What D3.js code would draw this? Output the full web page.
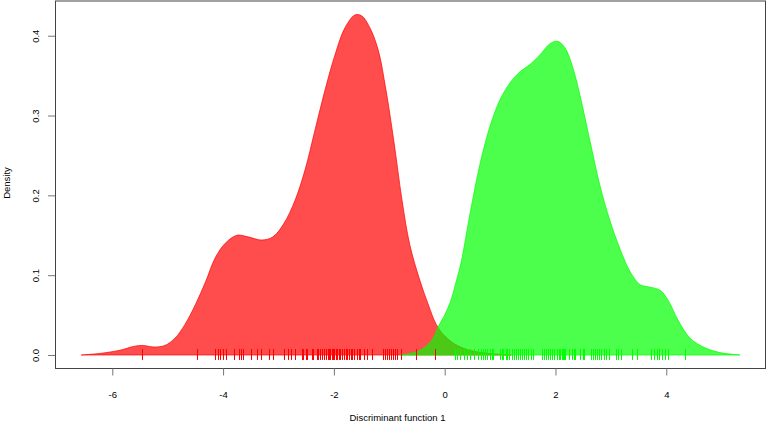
<!DOCTYPE html>
<html>
<head>
<meta charset="utf-8">
<script src="https://cdn.jsdelivr.net/npm/d3@7"></script>
<style>
  body { margin: 0; background: #fff; }
  text { font-family: "Liberation Sans", Arial, sans-serif; }
</style>
</head>
<body>
<div id="chart"></div>
<script>
// density curve of group 1 (red)
var redX = [-6.56, -6.22, -5.86, -5.6, -5.45, -5.25, -5.05, -4.87, -4.69, -4.5, -4.32, -4.14, -3.96, -3.75, -3.55, -3.3, -3.1, -2.9, -2.7, -2.52, -2.34, -2.16, -1.98, -1.8, -1.62, -1.5, -1.35, -1.2, -1.06, -0.92, -0.77, -0.63, -0.45, -0.3, -0.15, 0.0, 0.2, 0.45, 0.8, 1.2];
var redY = [0, 0.002, 0.006, 0.011, 0.012, 0.010, 0.012, 0.021, 0.038, 0.063, 0.091, 0.122, 0.140, 0.150, 0.148, 0.144, 0.148, 0.165, 0.194, 0.232, 0.282, 0.332, 0.376, 0.410, 0.426, 0.425, 0.410, 0.382, 0.332, 0.269, 0.194, 0.138, 0.094, 0.064, 0.038, 0.024, 0.013, 0.006, 0.002, 0];

// density curve of group 2 (green)
var greenX = [-0.81, -0.55, -0.35, -0.2, -0.12, 0.0, 0.1, 0.2, 0.3, 0.46, 0.64, 0.82, 1.0, 1.18, 1.36, 1.54, 1.72, 1.9, 2.04, 2.17, 2.3, 2.44, 2.62, 2.8, 2.98, 3.17, 3.35, 3.53, 3.71, 3.89, 4.03, 4.21, 4.43, 4.7, 4.97, 5.33];
var greenY = [0, 0.003, 0.010, 0.022, 0.035, 0.050, 0.066, 0.090, 0.117, 0.178, 0.240, 0.287, 0.320, 0.341, 0.355, 0.364, 0.376, 0.390, 0.393, 0.385, 0.363, 0.326, 0.269, 0.213, 0.169, 0.132, 0.104, 0.088, 0.085, 0.081, 0.069, 0.044, 0.021, 0.009, 0.003, 0];

// rug: individual scores
var redRug = [-5.47, -4.47, -4.14, -4.10, -4.05, -4.01, -3.94, -3.81, -3.71, -3.68, -3.64, -3.50, -3.39, -3.31, -3.17, -3.09, -2.90, -2.82, -2.77, -2.70, -2.57, -2.55, -2.51, -2.48, -2.40, -2.37, -2.31, -2.28, -2.25, -2.21, -2.17, -2.15, -2.11, -2.09, -2.07, -2.04, -2.01, -1.99, -1.96, -1.94, -1.91, -1.89, -1.85, -1.82, -1.79, -1.76, -1.73, -1.70, -1.67, -1.64, -1.59, -1.55, -1.52, -1.46, -1.41, -1.32, -1.11, -1.07, -1.04, -1.01, -0.97, -0.94, -0.90, -0.86, -0.78, -0.52, -0.17];
var greenRug = [0.19, 0.23, 0.28, 0.34, 0.40, 0.46, 0.53, 0.61, 0.65, 0.69, 0.72, 0.77, 0.81, 0.85, 0.88, 1.00, 1.03, 1.06, 1.10, 1.13, 1.17, 1.21, 1.25, 1.29, 1.32, 1.36, 1.40, 1.43, 1.47, 1.51, 1.55, 1.59, 1.75, 1.79, 1.82, 1.87, 1.90, 1.94, 1.98, 2.02, 2.06, 2.09, 2.11, 2.14, 2.16, 2.18, 2.25, 2.29, 2.33, 2.36, 2.44, 2.49, 2.52, 2.64, 2.67, 2.71, 2.75, 2.79, 2.83, 2.87, 2.91, 2.97, 3.09, 3.12, 3.18, 3.39, 3.48, 3.73, 3.78, 3.83, 3.87, 3.93, 3.98, 4.03, 4.34];

var xTicks = [-6, -4, -2, 0, 2, 4];
var yTicks = [0, 0.1, 0.2, 0.3, 0.4];

var W = 767, H = 423;
var plot = {left: 55, right: 765, top: 1, bottom: 368};

var svg = d3.select("#chart").append("svg")
    .attr("width", W)
    .attr("height", H);

var x = d3.scaleLinear()
    .domain([-7.034, 5.782])
    .range([plot.left, plot.right]);

var y = d3.scaleLinear()
    .domain([-0.0163, 0.4435])
    .range([plot.bottom, plot.top]);

var area = d3.area()
    .x(function(d) { return x(d[0]); })
    .y0(y(0))
    .y1(function(d) { return y(d[1]); })
    .curve(d3.curveCatmullRom);

var redPts = redX.map(function(v, i) { return [v, redY[i]]; });
var greenPts = greenX.map(function(v, i) { return [v, greenY[i]]; });

svg.append("path")
    .datum(redPts)
    .attr("d", area)
    .style("fill", "rgba(255,0,0,0.7)")
    .style("stroke", "rgba(255,0,0,0.7)")
    .style("stroke-width", 1);

svg.append("path")
    .datum(greenPts)
    .attr("d", area)
    .style("fill", "rgba(0,255,0,0.7)")
    .style("stroke", "rgba(0,255,0,0.7)")
    .style("stroke-width", 1);

// rugs
var rugTop = y(0) - 6, rugBottom = y(0) + 5;
svg.append("g").selectAll("line")
    .data(redRug)
    .enter().append("line")
      .attr("x1", function(d) { return Math.round(x(d)) + 0.5; })
      .attr("x2", function(d) { return Math.round(x(d)) + 0.5; })
      .attr("y1", rugTop)
      .attr("y2", rugBottom)
      .style("stroke", "#ff0000")
      .style("stroke-width", 1);

svg.append("g").selectAll("line")
    .data(greenRug)
    .enter().append("line")
      .attr("x1", function(d) { return Math.round(x(d)) + 0.5; })
      .attr("x2", function(d) { return Math.round(x(d)) + 0.5; })
      .attr("y1", rugTop)
      .attr("y2", rugBottom)
      .style("stroke", "#00ff00")
      .style("stroke-width", 1);

// box
svg.append("rect")
    .attr("x", plot.left + 0.5)
    .attr("y", plot.top)
    .attr("width", plot.right - plot.left)
    .attr("height", plot.bottom - plot.top + 0.5)
    .style("fill", "none")
    .style("stroke", "#444")
    .style("stroke-width", 1);

// x axis
var gx = svg.append("g")
    .attr("transform", "translate(0," + (plot.bottom + 0.5) + ")")
    .call(d3.axisBottom(x).tickValues(xTicks).tickSize(7).tickFormat(d3.format("d")));
gx.select(".domain").remove();
gx.selectAll(".tick line").style("stroke", "#777");
gx.selectAll(".tick text")
    .attr("y", 29)
    .attr("dy", 0)
    .style("font-size", "9.5px")
    .style("fill", "#000")
    .text(function(d) { return d < 0 ? "-" + Math.abs(d) : d; });

// y axis
var gy = svg.append("g")
    .attr("transform", "translate(" + (plot.left) + ",0)")
    .call(d3.axisLeft(y).tickValues(yTicks).tickSize(7).tickFormat(d3.format(".1f")));
gy.select(".domain").remove();
gy.selectAll(".tick line").style("stroke", "#777");
gy.selectAll(".tick text")
    .attr("transform", "rotate(-90)")
    .attr("x", 0)
    .attr("y", -16.5)
    .attr("dy", 0)
    .attr("text-anchor", "middle")
    .style("font-size", "9.5px")
    .style("fill", "#000");

// axis titles
svg.append("text")
    .attr("x", 397.5)
    .attr("y", 421)
    .attr("text-anchor", "middle")
    .style("font-size", "9.5px")
    .text("Discriminant function 1");

svg.append("text")
    .attr("transform", "translate(9.5," + 183 + ") rotate(-90)")
    .attr("text-anchor", "middle")
    .style("font-size", "9.5px")
    .text("Density");
</script>
</body>
</html>
